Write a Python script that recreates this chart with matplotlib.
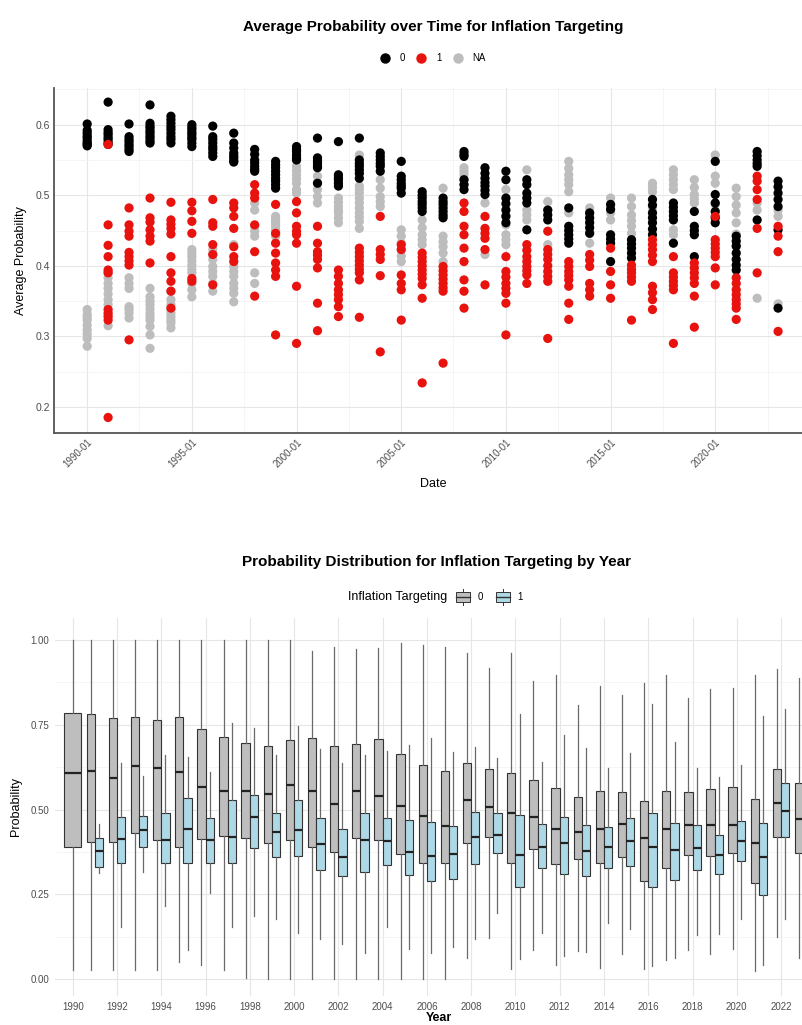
import matplotlib
matplotlib.use("Agg")
from matplotlib import pyplot as plt
from matplotlib.lines import Line2D
from matplotlib.patches import Patch, Rectangle
from matplotlib.legend_handler import HandlerBase
import pandas as pd
import numpy as np

plt.rcParams['font.family'] = ['Liberation Sans Narrow', 'Liberation Sans', 'DejaVu Sans']

years = list(range(1990, 2024))

# average probability per year, by inflation targeting status
prob_0 = [
    [0.601, 0.592, 0.588, 0.584, 0.581, 0.577, 0.574, 0.572, 0.570],
    [0.632, 0.593, 0.589, 0.586, 0.582, 0.579, 0.575, 0.572],
    [0.601, 0.583, 0.579, 0.576, 0.572, 0.569, 0.565, 0.562],
    [0.628, 0.602, 0.598, 0.595, 0.591, 0.588, 0.584, 0.581, 0.577, 0.574],
    [0.612, 0.607, 0.602, 0.597, 0.593, 0.588, 0.583, 0.579, 0.574],
    [0.600, 0.596, 0.593, 0.589, 0.586, 0.582, 0.579, 0.574, 0.569],
    [0.598, 0.583, 0.579, 0.574, 0.569, 0.565, 0.560, 0.555],
    [0.588, 0.574, 0.567, 0.560, 0.556, 0.553, 0.549, 0.547],
    [0.565, 0.558, 0.550, 0.546, 0.541, 0.537, 0.534],
    [0.548, 0.543, 0.539, 0.534, 0.529, 0.524, 0.520, 0.515, 0.510],
    [0.569, 0.565, 0.562, 0.557, 0.553, 0.550],
    [0.581, 0.553, 0.549, 0.546, 0.542, 0.539, 0.517],
    [0.576, 0.529, 0.525, 0.522, 0.517, 0.513],
    [0.581, 0.550, 0.545, 0.541, 0.536, 0.531, 0.524],
    [0.560, 0.555, 0.550, 0.545, 0.541, 0.534],
    [0.548, 0.527, 0.522, 0.517, 0.513, 0.510, 0.503],
    [0.505, 0.500, 0.496, 0.491, 0.487, 0.482, 0.477],
    [0.496, 0.491, 0.487, 0.482, 0.477, 0.472, 0.468],
    [0.562, 0.558, 0.555, 0.522, 0.515, 0.508],
    [0.539, 0.531, 0.524, 0.518, 0.513, 0.507, 0.501],
    [0.534, 0.522, 0.496, 0.488, 0.479, 0.470, 0.461],
    [0.522, 0.515, 0.503, 0.496, 0.489, 0.451],
    [0.479, 0.472, 0.465],
    [0.482, 0.456, 0.450, 0.444, 0.438, 0.432],
    [0.475, 0.468, 0.461, 0.454, 0.446],
    [0.487, 0.480, 0.444, 0.438, 0.432, 0.406],
    [0.437, 0.431, 0.425, 0.418, 0.411],
    [0.494, 0.486, 0.475, 0.468, 0.461, 0.452, 0.444],
    [0.489, 0.483, 0.477, 0.471, 0.465, 0.432],
    [0.477, 0.456, 0.450, 0.444, 0.413],
    [0.548, 0.501, 0.489, 0.477, 0.468, 0.461],
    [0.442, 0.435, 0.428, 0.418, 0.409, 0.401, 0.394],
    [0.562, 0.556, 0.550, 0.545, 0.541, 0.465],
    [0.520, 0.512, 0.503, 0.494, 0.484, 0.451, 0.340],
]
prob_1 = [
    [],
    [0.572, 0.458, 0.429, 0.413, 0.394, 0.390, 0.338, 0.333, 0.328, 0.323, 0.185],
    [0.482, 0.458, 0.449, 0.442, 0.419, 0.413, 0.407, 0.401, 0.295],
    [0.496, 0.468, 0.462, 0.451, 0.442, 0.435, 0.404],
    [0.490, 0.465, 0.459, 0.453, 0.445, 0.413, 0.390, 0.378, 0.364, 0.340],
    [0.490, 0.478, 0.463, 0.446, 0.382, 0.378],
    [0.494, 0.461, 0.456, 0.430, 0.416, 0.373],
    [0.489, 0.482, 0.470, 0.453, 0.427, 0.413, 0.406],
    [0.515, 0.503, 0.496, 0.458, 0.420, 0.357],
    [0.487, 0.446, 0.432, 0.418, 0.404, 0.394, 0.385, 0.302],
    [0.491, 0.475, 0.456, 0.449, 0.444, 0.432, 0.371, 0.290],
    [0.456, 0.432, 0.420, 0.415, 0.409, 0.397, 0.347, 0.308],
    [0.394, 0.385, 0.375, 0.366, 0.359, 0.352, 0.342, 0.328],
    [0.425, 0.419, 0.413, 0.407, 0.401, 0.395, 0.390, 0.380, 0.327],
    [0.470, 0.423, 0.416, 0.409, 0.386, 0.278],
    [0.430, 0.423, 0.387, 0.375, 0.366, 0.323],
    [0.418, 0.412, 0.406, 0.400, 0.394, 0.388, 0.382, 0.373, 0.354, 0.234],
    [0.399, 0.393, 0.387, 0.381, 0.375, 0.369, 0.364, 0.262],
    [0.489, 0.477, 0.456, 0.444, 0.425, 0.406, 0.380, 0.364, 0.340],
    [0.470, 0.453, 0.446, 0.439, 0.423, 0.373],
    [0.413, 0.392, 0.384, 0.375, 0.368, 0.361, 0.347, 0.302],
    [0.430, 0.422, 0.413, 0.406, 0.399, 0.393, 0.387, 0.375],
    [0.449, 0.423, 0.416, 0.409, 0.400, 0.392, 0.385, 0.378, 0.297],
    [0.406, 0.399, 0.392, 0.386, 0.380, 0.371, 0.347, 0.324],
    [0.416, 0.408, 0.399, 0.375, 0.366, 0.357],
    [0.425, 0.392, 0.373, 0.354],
    [0.401, 0.395, 0.390, 0.384, 0.378, 0.323],
    [0.437, 0.430, 0.423, 0.415, 0.406, 0.371, 0.362, 0.352, 0.338],
    [0.413, 0.390, 0.384, 0.378, 0.372, 0.366, 0.290],
    [0.404, 0.397, 0.390, 0.383, 0.375, 0.357, 0.313],
    [0.470, 0.437, 0.431, 0.425, 0.419, 0.413, 0.397, 0.373],
    [0.383, 0.375, 0.366, 0.359, 0.352, 0.346, 0.340, 0.324],
    [0.527, 0.520, 0.508, 0.494, 0.453, 0.390],
    [0.456, 0.442, 0.420, 0.307],
]
prob_na = [
    [0.338, 0.331, 0.327, 0.323, 0.316, 0.309, 0.303, 0.297, 0.286],
    [0.390, 0.383, 0.375, 0.368, 0.360, 0.352, 0.345, 0.330, 0.315],
    [0.383, 0.375, 0.368, 0.342, 0.338, 0.333, 0.326],
    [0.368, 0.356, 0.350, 0.345, 0.339, 0.333, 0.328, 0.323, 0.314, 0.302, 0.283],
    [0.364, 0.352, 0.345, 0.338, 0.333, 0.328, 0.323, 0.319, 0.312],
    [0.423, 0.418, 0.413, 0.407, 0.401, 0.395, 0.390, 0.375, 0.366, 0.356],
    [0.423, 0.416, 0.409, 0.399, 0.392, 0.385, 0.375, 0.364],
    [0.430, 0.399, 0.392, 0.385, 0.375, 0.368, 0.361, 0.349],
    [0.489, 0.479, 0.456, 0.449, 0.442, 0.390, 0.375],
    [0.470, 0.465, 0.461, 0.456, 0.451, 0.446, 0.442],
    [0.550, 0.541, 0.535, 0.529, 0.523, 0.517, 0.508, 0.503],
    [0.527, 0.518, 0.508, 0.498, 0.489],
    [0.496, 0.490, 0.484, 0.479, 0.475, 0.468, 0.461],
    [0.557, 0.513, 0.508, 0.503, 0.496, 0.489, 0.482, 0.475, 0.469, 0.463, 0.453],
    [0.522, 0.510, 0.498, 0.491, 0.484],
    [0.451, 0.442, 0.432, 0.423, 0.414, 0.406],
    [0.465, 0.454, 0.444, 0.437, 0.430],
    [0.510, 0.442, 0.434, 0.427, 0.418, 0.406],
    [0.539, 0.534, 0.529, 0.522, 0.515],
    [0.489, 0.416],
    [0.508, 0.472, 0.458, 0.444, 0.437, 0.430],
    [0.536, 0.479, 0.472, 0.465],
    [0.491, 0.479, 0.430],
    [0.548, 0.538, 0.529, 0.522, 0.515, 0.505, 0.475],
    [0.482, 0.474, 0.465, 0.448, 0.432],
    [0.496, 0.485, 0.475, 0.465],
    [0.496, 0.484, 0.472, 0.464, 0.456, 0.446],
    [0.517, 0.511, 0.505, 0.482],
    [0.536, 0.529, 0.522, 0.515, 0.508, 0.451, 0.444],
    [0.522, 0.511, 0.501, 0.495, 0.489],
    [0.557, 0.527, 0.517, 0.487],
    [0.510, 0.498, 0.486, 0.475, 0.461, 0.445, 0.428],
    [0.489, 0.479, 0.354],
    [0.479, 0.470, 0.346],
]

# box statistics per year (group 0 = not targeting, group 1 = targeting)
box0_low = [0.027, 0.027, 0.027, 0.027, 0.027, 0.05, 0.04, 0.027, 0.003, 0.0, 0.0, 0.0, 0.0, 0.0, 0.0, 0.0, 0.0,
            0.0, 0.061, 0.12, 0.03, 0.086, 0.041, 0.083, 0.033, 0.073, 0.03, 0.056, 0.086, 0.073, 0.089, 0.024, 0.124, 0.062]
box0_q1 = [0.39, 0.405, 0.405, 0.43, 0.41, 0.39, 0.413, 0.422, 0.415, 0.4, 0.41, 0.39, 0.374, 0.415, 0.41, 0.37, 0.343,
           0.343, 0.4, 0.418, 0.341, 0.384, 0.339, 0.354, 0.343, 0.36, 0.29, 0.329, 0.366, 0.364, 0.372, 0.283, 0.418, 0.372]
box0_med = [0.607, 0.613, 0.593, 0.628, 0.623, 0.61, 0.567, 0.555, 0.556, 0.547, 0.572, 0.555, 0.516, 0.555, 0.54, 0.51, 0.481,
            0.452, 0.528, 0.508, 0.489, 0.477, 0.442, 0.434, 0.442, 0.457, 0.416, 0.443, 0.454, 0.453, 0.454, 0.401, 0.519, 0.472]
box0_q3 = [0.785, 0.782, 0.77, 0.773, 0.764, 0.774, 0.737, 0.713, 0.695, 0.688, 0.705, 0.71, 0.688, 0.693, 0.707, 0.663, 0.631,
           0.613, 0.636, 0.619, 0.608, 0.587, 0.563, 0.537, 0.555, 0.552, 0.525, 0.555, 0.552, 0.56, 0.566, 0.531, 0.619, 0.578]
box0_high = [1.0, 1.0, 1.0, 1.0, 1.0, 1.0, 1.0, 1.0, 1.0, 1.0, 1.0, 0.968, 0.98, 0.973, 0.976, 0.99, 0.985,
             0.98, 0.962, 0.917, 0.962, 0.88, 0.897, 0.808, 0.864, 0.837, 0.872, 0.897, 0.828, 0.855, 0.858, 0.897, 0.914, 0.888]

box1_low = [None, 0.313, 0.155, 0.316, 0.215, 0.086, 0.253, 0.155, 0.185, 0.176, 0.136, 0.117, 0.103, 0.078, 0.155, 0.09, 0.078,
            0.094, 0.117, 0.196, 0.059, 0.136, 0.068, 0.08, 0.164, 0.147, 0.039, 0.061, 0.13, 0.133, 0.176, 0.041, 0.176, 0.1]
box1_q1 = [None, 0.331, 0.342, 0.39, 0.342, 0.342, 0.342, 0.343, 0.386, 0.36, 0.364, 0.322, 0.304, 0.316, 0.337, 0.307, 0.289,
           0.294, 0.339, 0.372, 0.271, 0.327, 0.31, 0.304, 0.329, 0.334, 0.271, 0.292, 0.322, 0.31, 0.348, 0.248, 0.418, 0.357]
box1_med = [None, 0.378, 0.413, 0.44, 0.41, 0.443, 0.41, 0.418, 0.478, 0.434, 0.44, 0.398, 0.36, 0.41, 0.408, 0.375, 0.364,
            0.369, 0.42, 0.425, 0.366, 0.39, 0.4, 0.378, 0.389, 0.408, 0.39, 0.38, 0.386, 0.366, 0.408, 0.36, 0.496, 0.431]
box1_q3 = [None, 0.416, 0.478, 0.481, 0.49, 0.534, 0.475, 0.528, 0.543, 0.49, 0.528, 0.475, 0.442, 0.49, 0.476, 0.469, 0.464,
           0.452, 0.494, 0.49, 0.484, 0.457, 0.478, 0.454, 0.449, 0.476, 0.489, 0.46, 0.454, 0.424, 0.466, 0.46, 0.578, 0.528]
box1_high = [None, 0.457, 0.637, 0.598, 0.661, 0.654, 0.61, 0.756, 0.741, 0.66, 0.746, 0.68, 0.637, 0.66, 0.673, 0.69, 0.71,
             0.67, 0.685, 0.651, 0.782, 0.641, 0.72, 0.681, 0.622, 0.666, 0.811, 0.699, 0.622, 0.597, 0.631, 0.776, 0.796, 0.72]

W, H = 803, 1025
fig = plt.figure(figsize=(W / 100, H / 100), dpi=100)
fig.patch.set_facecolor('white')

txt_gray = '#4d4d4d'
grid_major = '#e6e6e6'
grid_minor = '#f2f2f2'
line_c = '#333333'


def px_axes(x0, y0, x1, y1):
    # axes from pixel box (top-left origin)
    return fig.add_axes([x0 / W, 1 - y1 / H, (x1 - x0) / W, (y1 - y0) / H])


class BoxKey(HandlerBase):
    # small boxplot glyph like ggplot's legend key
    def create_artists(self, legend, orig_handle, xdescent, ydescent, width, height, fontsize, trans):
        fc = orig_handle.get_facecolor()
        bx0, bw = 0.1 * width, 0.8 * width
        by0, bh = 0.2 * height, 0.6 * height
        rect = Rectangle((bx0 - xdescent, by0 - ydescent), bw, bh, facecolor=fc,
                         edgecolor=line_c, lw=0.7, transform=trans)
        cx = width / 2 - xdescent
        med = Line2D([bx0 - xdescent, bx0 + bw - xdescent], [height / 2 - ydescent] * 2,
                     color=line_c, lw=1.0, transform=trans)
        w1 = Line2D([cx, cx], [-ydescent, by0 - ydescent], color=line_c, lw=0.7, transform=trans)
        w2 = Line2D([cx, cx], [by0 + bh - ydescent, height - ydescent], color=line_c, lw=0.7, transform=trans)
        return [rect, med, w1, w2]


# ---------------- top panel: scatter ----------------
ax1 = px_axes(54, 88, 812, 433)

rows = []
for grp, data in (('NA', prob_na), ('0', prob_0), ('1', prob_1)):
    for yr, vals in zip(years, data):
        for v in vals:
            rows.append((pd.Timestamp(f"{yr}-01-01"), v, grp))
df = pd.DataFrame(rows, columns=['date', 'prob', 'it'])

colors = {'0': 'black', '1': '#e8130f', 'NA': '#bdbdbd'}
for grp in ['NA', '0', '1']:
    sub = df[df['it'] == grp]
    ax1.scatter(sub['date'], sub['prob'], s=44, color=colors[grp], edgecolors='none', zorder=3)

xt = [pd.Timestamp(f"{y}-01-01") for y in range(1990, 2025, 5)]
ax1.set_xticks(xt)
ax1.set_xticklabels([f"{y}-01" for y in range(1990, 2025, 5)], rotation=45, ha='right', va='top',
                    rotation_mode='anchor', color=txt_gray, fontsize=7)
ax1.set_xticks([pd.Timestamp(f"{y}-07-01") for y in range(1992, 2024, 5)], minor=True)
ax1.set_yticks([0.2, 0.3, 0.4, 0.5, 0.6])
ax1.set_yticklabels(['0.2', '0.3', '0.4', '0.5', '0.6'], color=txt_gray, fontsize=7.5)
ax1.set_yticks([0.25, 0.35, 0.45, 0.55, 0.65], minor=True)
ax1.set_xlim(pd.Timestamp('1988-06-01'), pd.Timestamp('2024-08-15'))
ax1.set_ylim(0.163, 0.652)
ax1.grid(which='major', color=grid_major, lw=0.8, zorder=0)
ax1.grid(which='minor', color=grid_minor, lw=0.5, zorder=0)
ax1.tick_params(which='both', length=0, pad=3)
for s in ['top', 'right']:
    ax1.spines[s].set_visible(False)
for s in ['left', 'bottom']:
    ax1.spines[s].set_color('#555555')
    ax1.spines[s].set_linewidth(1.3)
ax1.set_xlabel('Date', fontsize=9, labelpad=6)
ax1.set_ylabel('Average Probability', fontsize=9, labelpad=6)

fig.text(433 / W, 1 - 27 / H, 'Average Probability over Time for Inflation Targeting',
         ha='center', va='center', fontsize=11, fontweight='bold')
handles = [Line2D([], [], marker='o', ls='none', color=colors[k], markersize=6.5) for k in ['0', '1', 'NA']]
fig.legend(handles, ['0', '1', 'NA'], loc='center', bbox_to_anchor=(433 / W, 1 - 58 / H), ncol=3,
           frameon=False, fontsize=7, handletextpad=1.0, columnspacing=1.2, handlelength=1.0)

# ---------------- bottom panel: boxplots ----------------
ax2 = px_axes(55, 618, 822, 996)

stats0, pos0, wid0 = [], [], []
stats1, pos1 = [], []
for i, yr in enumerate(years):
    stats0.append(dict(whislo=box0_low[i], q1=box0_q1[i], med=box0_med[i], q3=box0_q3[i],
                       whishi=box0_high[i], fliers=[]))
    if box1_med[i] is None:
        pos0.append(yr)
        wid0.append(0.75)
    else:
        pos0.append(yr - 0.1875)
        wid0.append(0.375)
        stats1.append(dict(whislo=box1_low[i], q1=box1_q1[i], med=box1_med[i], q3=box1_q3[i],
                           whishi=box1_high[i], fliers=[]))
        pos1.append(yr + 0.1875)

common = dict(patch_artist=True, showfliers=False, showcaps=False, manage_ticks=False,
              whiskerprops=dict(color='#6a6a6a', lw=0.9),
              medianprops=dict(color='#222222', lw=1.6),
              zorder=3)
ax2.bxp(stats0, positions=pos0, widths=wid0,
        boxprops=dict(facecolor='#bebebe', edgecolor=line_c, lw=0.8), **common)
ax2.bxp(stats1, positions=pos1, widths=0.375,
        boxprops=dict(facecolor='#add8e6', edgecolor=line_c, lw=0.8), **common)

ax2.set_xticks(list(range(1990, 2024, 2)))
ax2.set_xticklabels([str(y) for y in range(1990, 2024, 2)], color=txt_gray, fontsize=7)
ax2.set_yticks([0, 0.25, 0.5, 0.75, 1.0])
ax2.set_yticklabels(['0.00', '0.25', '0.50', '0.75', '1.00'], color=txt_gray, fontsize=7)
ax2.set_yticks([0.125, 0.375, 0.625, 0.875], minor=True)
ax2.set_xlim(1989.2, 2023.85)
ax2.set_ylim(-0.05, 1.065)
ax2.grid(axis='x', which='major', color=grid_major, lw=0.8, zorder=0)
ax2.grid(axis='y', which='major', color=grid_major, lw=0.8, zorder=0)
ax2.grid(axis='y', which='minor', color=grid_minor, lw=0.5, zorder=0)
ax2.tick_params(which='both', length=0, pad=4)
for s in ax2.spines.values():
    s.set_visible(False)
ax2.set_xlabel('Year', fontsize=9, fontweight='bold', labelpad=0)
ax2.set_ylabel('Probability', fontsize=9, labelpad=6)

fig.text(437 / W, 1 - 562 / H, 'Probability Distribution for Inflation Targeting by Year',
         ha='center', va='center', fontsize=11, fontweight='bold')
fig.text(447 / W, 1 - 597 / H, 'Inflation Targeting', ha='right', va='center', fontsize=9)
box_handles = [Patch(facecolor='#bebebe', edgecolor=line_c), Patch(facecolor='#add8e6', edgecolor=line_c)]
fig.legend(box_handles, ['0', '1'], loc='center left', bbox_to_anchor=(447 / W, 1 - 597 / H), ncol=2,
           frameon=False, fontsize=7, handletextpad=0.6, columnspacing=1.2, handlelength=1.8,
           handleheight=2.0, borderpad=0.2, handler_map={Patch: BoxKey()})

fig.savefig('out.png', dpi=100)
